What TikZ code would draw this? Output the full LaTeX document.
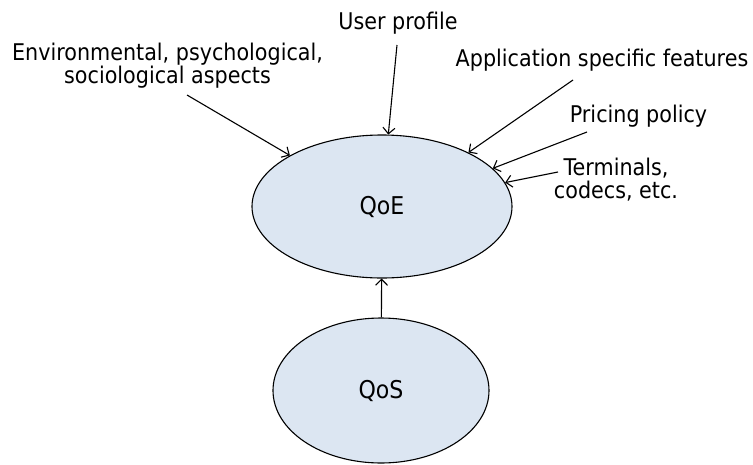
\documentclass[tikz,border=0pt]{standalone}
\usepackage{fontspec}
\setmainfont{DejaVu Sans}[FakeStretch=0.9]
\usetikzlibrary{arrows.meta,shapes.geometric}

\begin{document}
\begin{tikzpicture}[x=1pt, y=-1pt, >={Straight Barb[length=6pt,width=12pt]}, line width=1.1pt,
    font=\fontsize{23}{22.5}\selectfont,
    qual node/.style={ellipse, draw, fill={rgb,255:red,220;green,230;blue,242}, inner sep=0pt,
        font=\fontsize{24.5}{25}\selectfont},
    label node/.style={inner sep=0pt, align=center}]
    \useasboundingbox (0,0) rectangle (753,464);

    \node[qual node, minimum width=260pt, minimum height=143pt] (qoe) at (382,206.5) {QoE};
    \node[qual node, minimum width=216pt, minimum height=145pt] (qos) at (381,390.5) {QoS};

    \node[label node, anchor=base] (user) at (398,29.3) {User profile};
    \node[label node, anchor=north] (env) at (167.5,42.8) {Environmental, psychological,\\sociological aspects};
    \node[label node, anchor=base] (app) at (602,66) {Application specific features};
    \node[label node, anchor=base] (price) at (638.5,122) {Pricing policy};
    \node[label node, anchor=north] (term) at (616,157.8) {Terminals,\\codecs, etc.};

    % free ends of the incoming arrows
    \coordinate (usertail) at (397,45);
    \coordinate (envtail) at (187,95);
    \coordinate (apptail) at (573,80);
    \coordinate (pricetail) at (587,132);
    \coordinate (termtail) at (558,172);

    \path[->]
        (usertail) edge (qoe.85)
        (envtail) edge (qoe.151.6)
        (apptail) edge (qoe.32.7)
        (pricetail) edge (qoe.19.6)
        (termtail) edge (qoe.11.1)
        (qos) edge (qoe);
\end{tikzpicture}
\end{document}
